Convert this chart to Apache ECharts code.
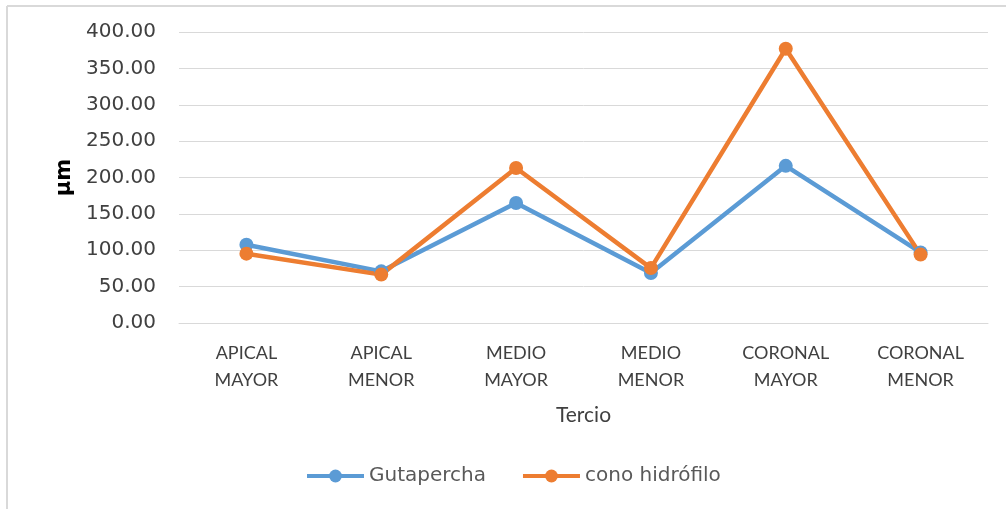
<!DOCTYPE html>
<html>
<head>
<meta charset="utf-8">
<script src="https://cdn.jsdelivr.net/npm/echarts@6/dist/echarts.min.js"></script>
<style>
  html, body { margin: 0; padding: 0; background: #fff; }
  #main { width: 1006px; height: 509px; }
</style>
</head>
<body>
<div id="main"></div>
<script>
// datos
var categorias = ['APICAL\nMAYOR', 'APICAL\nMENOR', 'MEDIO\nMAYOR', 'MEDIO\nMENOR', 'CORONAL\nMAYOR', 'CORONAL\nMENOR'];
var gutapercha = [107.5, 71.0, 165.0, 68.7, 216.0, 97.0];
var conoHidrofilo = [95.3, 66.5, 213.0, 75.5, 377.0, 94.0];

var fuenteAncha = '"DejaVu Sans", sans-serif';
var fuenteEstrecha = 'Lato, "Liberation Sans", sans-serif';

var config = {
  animation: false,
  // borde del área del gráfico (solo arriba e izquierda se ven)
  graphic: [
    { type: 'line', shape: { x1: 7, y1: 6, x2: 1006, y2: 6 }, style: { stroke: '#d9d9d9', lineWidth: 2 } },
    { type: 'line', shape: { x1: 7, y1: 6, x2: 7, y2: 509 }, style: { stroke: '#d9d9d9', lineWidth: 2 } }
  ],
  grid: { left: 179, right: 18, top: 32, bottom: 186 },
  legend: {
    bottom: 18,
    left: 300,
    itemWidth: 57,
    itemHeight: 16,
    itemGap: 35,
    lineStyle: { width: 4 },
    textStyle: { fontFamily: fuenteAncha, fontSize: 20, color: '#595959' },
    data: ['Gutapercha', 'cono hidrófilo']
  },
  xAxis: {
    type: 'category',
    data: categorias,
    name: 'Tercio',
    nameLocation: 'middle',
    nameGap: 82,
    nameTextStyle: { fontFamily: fuenteEstrecha, fontSize: 21, color: '#404040' },
    axisLine: { lineStyle: { color: '#d9d9d9', width: 1 } },
    axisTick: { show: false },
    axisLabel: { fontFamily: fuenteEstrecha, fontSize: 18, color: '#404040', lineHeight: 27, margin: 17, interval: 0 }
  },
  yAxis: {
    type: 'value',
    min: 0,
    max: 400,
    interval: 50,
    name: 'µm',
    nameLocation: 'middle',
    nameGap: 104,
    nameRotate: 90,
    nameTextStyle: { fontFamily: fuenteAncha, fontSize: 21, color: '#000', fontWeight: 'bold' },
    axisLine: { show: false },
    axisTick: { show: false },
    splitLine: { lineStyle: { color: '#d9d9d9', width: 1 } },
    axisLabel: {
      fontFamily: fuenteAncha, fontSize: 20, color: '#404040', margin: 23,
      formatter: function (v) { return v.toFixed(2); }
    }
  },
  series: [
    {
      name: 'Gutapercha',
      type: 'line',
      data: gutapercha,
      symbol: 'circle',
      symbolSize: 14,
      color: '#5b9bd5',
      lineStyle: { width: 4.5, color: '#5b9bd5' },
      itemStyle: { color: '#5b9bd5' }
    },
    {
      name: 'cono hidrófilo',
      type: 'line',
      data: conoHidrofilo,
      symbol: 'circle',
      symbolSize: 14,
      color: '#ed7d31',
      lineStyle: { width: 4.5, color: '#ed7d31' },
      itemStyle: { color: '#ed7d31' }
    }
  ]
};

var myChart = echarts.init(document.getElementById('main'));
myChart.setOption(config);
</script>
</body>
</html>
